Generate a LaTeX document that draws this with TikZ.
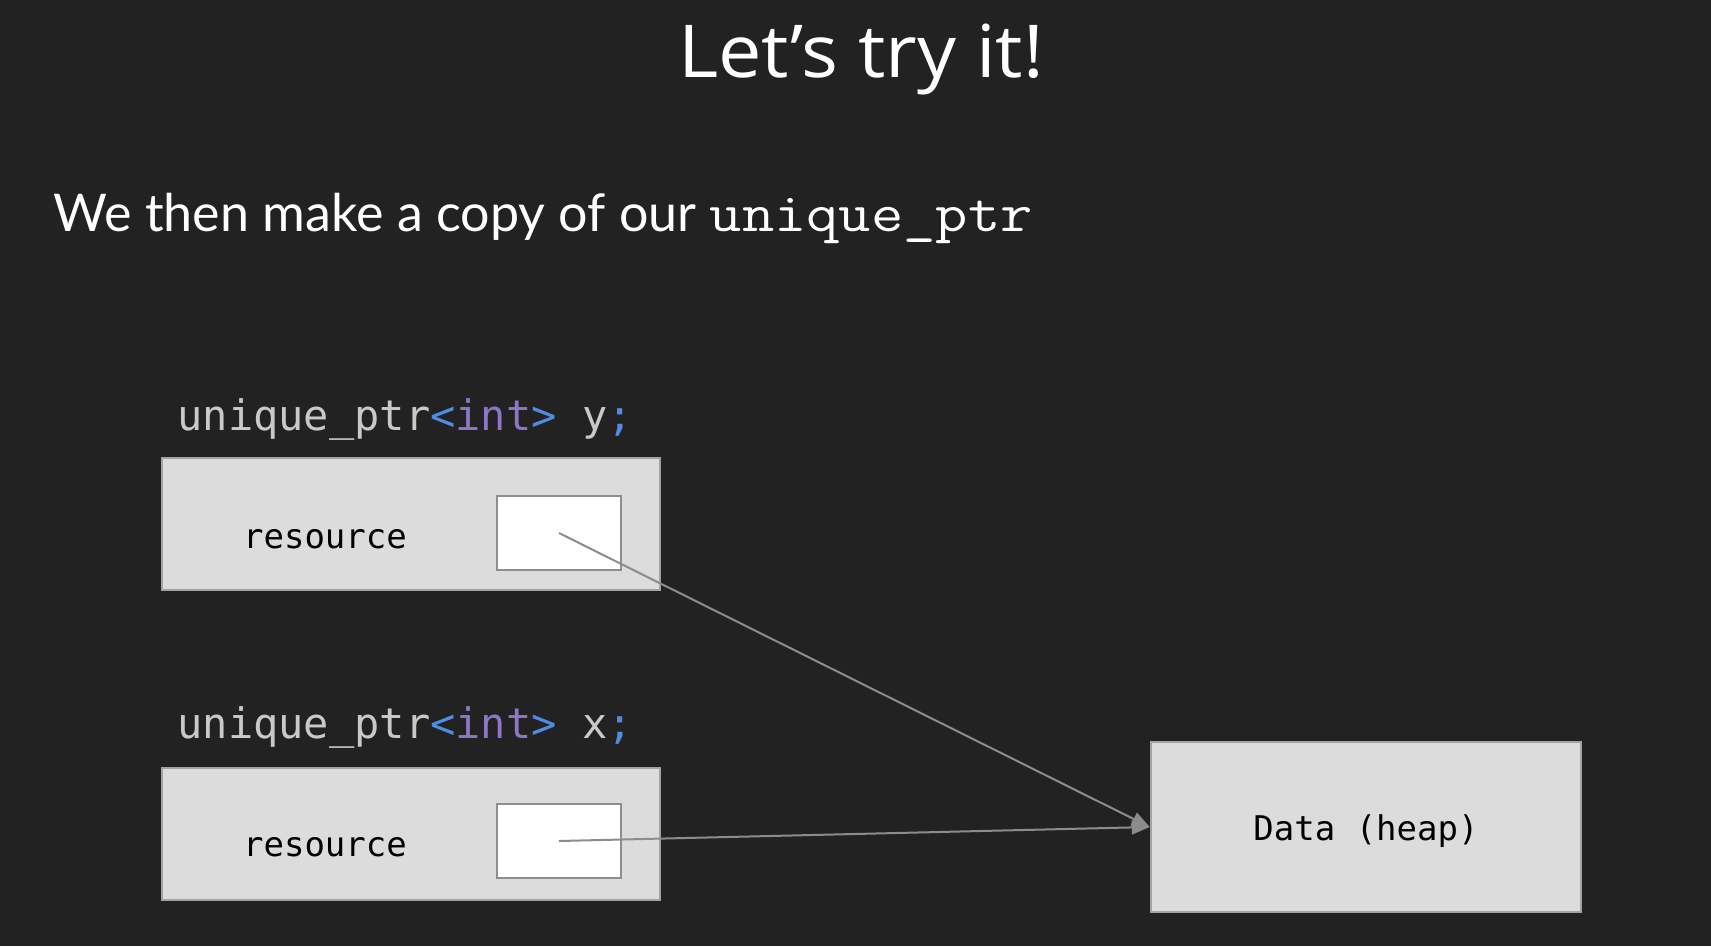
\documentclass[tikz,border=0pt]{standalone}
\usepackage{fontspec}
\setmainfont{Lato}
\newfontfamily\titlefont[FakeStretch=1.06]{Open Sans}
\newfontfamily\codefont{DejaVu Sans Mono}
\newfontfamily\typefont[FakeStretch=1.14]{Latin Modern Mono}
\usepackage{tikz}
\usetikzlibrary{arrows.meta}

\definecolor{bg}{HTML}{222222}
\definecolor{boxfill}{HTML}{DCDCDC}
\definecolor{boxline}{HTML}{A3A3A3}
\definecolor{slotline}{HTML}{8E8E8E}
\definecolor{arrowgray}{HTML}{8C8C8C}
\definecolor{codegray}{HTML}{C9C9C9}
\definecolor{codeblue}{HTML}{4E8DE3}
\definecolor{codepurple}{HTML}{8C76C6}

\tikzset{
  membox/.style={draw=boxline, fill=boxfill, line width=2.5pt, inner sep=0pt,
    minimum width=498pt, minimum height=132pt},
  slotbox/.style={draw=slotline, fill=white, line width=2pt, inner sep=0pt,
    minimum width=124pt, minimum height=74pt},
  heapbox/.style={draw=boxline, fill=boxfill, line width=2.5pt, inner sep=0pt,
    minimum width=430pt, minimum height=170pt, font=\codefont\fontsize{34}{40}\selectfont},
  fieldtext/.style={anchor=base, font=\codefont\fontsize{34}{40}\selectfont, text=black},
  decltext/.style={anchor=base west, font=\codefont\fontsize{42}{50}\selectfont, text=codegray},
  ptrarrow/.style={draw=arrowgray, line width=2pt, -{Triangle[length=18pt,width=14pt]}}
}

\newcommand{\uptr}[1]{unique\_ptr{\color{codeblue}<}{\color{codepurple}int}{\color{codeblue}>} #1{\color{codeblue};}}

\begin{document}
\begin{tikzpicture}[x=1pt,y=-1pt]
  \fill[bg] (0,0) rectangle (1711,946);

  \def\bx{411} % center of the member boxes
  \def\sx{559} % center of the slots

  % heading
  \node[anchor=base, text=white, font=\titlefont\fontsize{73}{84}\selectfont] (title) at (861,77) {Let’s try it!};
  \node[anchor=base west, text=white, font=\fontsize{52}{60}\selectfont] (sub) at (50,231)
    {We then make a copy of our {\typefont\fontsize{55}{60}\selectfont unique\_ptr}};

  % y
  \node[decltext] (decly) at (174,430) {\uptr{y}};
  \node[membox] (boxy) at (\bx,524) {};
  \node[fieldtext] (resy) at (325,548) {resource};
  \node[slotbox] (ptry) at (\sx,533) {};

  % x
  \node[decltext] (declx) at (174,738) {\uptr{x}};
  \node[membox] (boxx) at (\bx,834) {};
  \node[fieldtext] (resx) at (325,856) {resource};
  \node[slotbox] (ptrx) at (\sx,841) {};

  % heap
  \node[heapbox] (data) at (1366,827) {\raisebox{-4pt}[\height][\depth]{Data (heap)}};

  \draw[ptrarrow] (ptry.center) -- (data.west);
  \draw[ptrarrow] (ptrx.center) -- (data.west);
\end{tikzpicture}
\end{document}
